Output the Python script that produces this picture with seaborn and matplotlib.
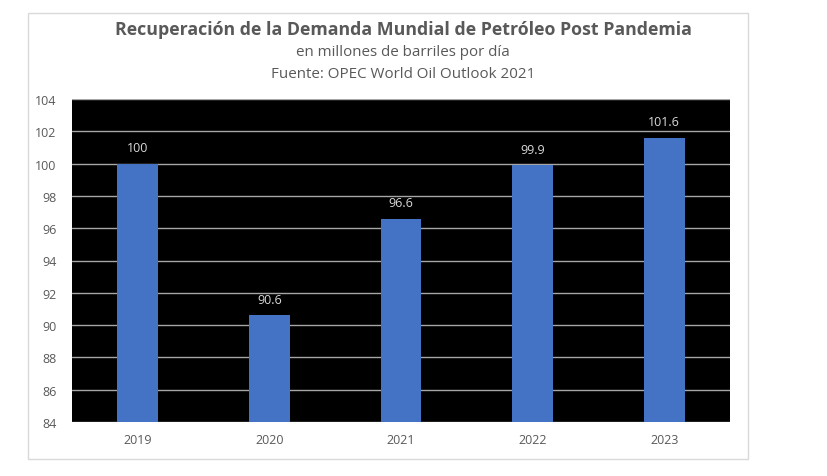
import matplotlib
matplotlib.use("Agg")
import matplotlib.pyplot as plt
import seaborn as sns
import pandas as pd
from matplotlib.patches import Rectangle

years = ["2019", "2020", "2021", "2022", "2023"]
demand = [100, 90.6, 96.6, 99.9, 101.6]
labels = ["100", "90.6", "96.6", "99.9", "101.6"]
yticks = [84, 86, 88, 90, 92, 94, 96, 98, 100, 102, 104]

sns.set_theme(style="white")
plt.rcParams['font.family'] = ['Open Sans', 'DejaVu Sans']

df = pd.DataFrame({"Año": years, "Demanda": demand})

fig = plt.figure(figsize=(8.28, 4.77), dpi=100)
fig.patch.set_facecolor("white")
# light frame around the chart area
fig.patches.append(Rectangle((28 / 828, 1 - 460 / 477), 720 / 828, 446 / 477,
                             transform=fig.transFigure, facecolor="none",
                             edgecolor="#D9D9D9", linewidth=1))

ax = fig.add_axes([72 / 828, 1 - 423 / 477, 658 / 828, 323 / 477])
ax.set_facecolor("black")
sns.barplot(data=df, x="Año", y="Demanda", color="#4472C4", width=0.31,
            saturation=1, linewidth=0, ax=ax, zorder=3)
ax.set_ylim(84, 104)
ax.set_yticks(yticks)
ax.yaxis.grid(True, color="#A6A6A6", linewidth=1)
ax.set_axisbelow(True)
for s in ax.spines.values():
    s.set_visible(False)
ax.set_xlabel("")
ax.set_ylabel("")
ax.tick_params(axis="both", colors="#595959", labelsize=9, length=0)
ax.tick_params(axis="x", pad=8)
ax.tick_params(axis="y", pad=11)

# value labels above bars
for i, (v, t) in enumerate(zip(demand, labels)):
    ax.text(i, v + 0.6, t, ha="center", va="bottom", color="#D9D9D9", fontsize=9)

fig.text(403 / 828, 1 - 30 / 477, "Recuperación de la Demanda Mundial de Petróleo Post Pandemia",
         ha="center", va="center", fontsize=12.8, fontweight="bold", color="#595959")
fig.text(403 / 828, 1 - 53 / 477, "en millones de barriles por día",
         ha="center", va="center", fontsize=10.9, color="#595959")
fig.text(403 / 828, 1 - 74 / 477, "Fuente: OPEC World Oil Outlook 2021",
         ha="center", va="center", fontsize=10.9, color="#595959")

fig.savefig("out.png", dpi=100, facecolor="white")
